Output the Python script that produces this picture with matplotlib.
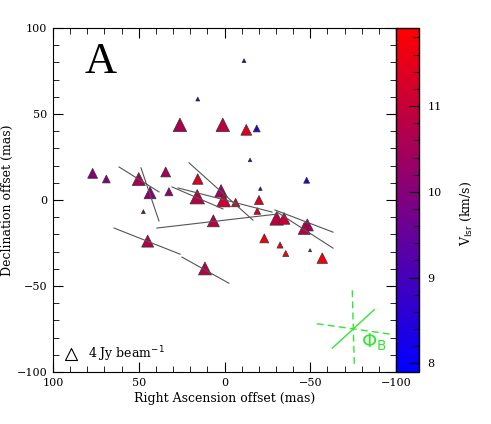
import matplotlib
matplotlib.use("Agg")
import matplotlib.pyplot as plt
from matplotlib.colors import LinearSegmentedColormap
from matplotlib.ticker import MultipleLocator
import numpy as np

# spot positions (mas), flux (Jy/beam) and velocity (km/s)
ra_off = [-11.4, 15.6, 26.0, 1.0, -12.7, -18.8, -14.9, -20.9, -47.9,
          76.9, 68.9, 50.0, 34.3, 15.6, 43.4, 32.4, 47.3, 15.9, 2.0,
          0.5, -6.5, -20.1, -19.1, -30.4, -34.7, -48.3, -46.5, 6.5,
          -23.2, -32.4, -35.7, -49.9, -57.0, 44.8, 11.4]
dec_off = [81.0, 58.7, 43.7, 43.7, 40.8, 41.6, 23.3, 6.6, 11.5,
           15.5, 12.2, 12.2, 16.3, 12.2, 4.2, 4.8, -6.8, 1.9, 5.3,
           0.0, -1.5, 0.0, -6.4, -10.7, -10.7, -14.5, -16.5, -12.1,
           -22.3, -26.2, -31.1, -29.2, -33.8, -23.9, -39.8]
flux = [1.3, 1.3, 4.5, 4.5, 3.6, 2.3, 1.2, 1.2, 2.0,
        3.3, 2.6, 4.3, 3.3, 3.5, 4.0, 2.7, 1.3, 4.8, 4.2,
        4.6, 2.8, 3.0, 2.2, 4.5, 3.9, 4.0, 4.0, 4.0,
        3.0, 2.0, 2.0, 1.0, 3.5, 4.0, 4.3]
vlsr = [8.2, 8.4, 10.6, 10.9, 11.4, 8.6, 8.5, 8.6, 8.5,
        10.0, 10.0, 10.6, 10.5, 11.3, 10.1, 10.2, 9.9, 10.8, 10.5,
        11.1, 11.3, 11.4, 11.4, 10.9, 11.1, 10.5, 10.8, 10.8,
        11.7, 11.7, 11.8, 8.6, 11.8, 10.8, 10.8]

# gradient segments: (ra1, dec1, ra2, dec2)
segments = [(61.5, 19.2, 38.2, 4.7),
            (48.7, 18.7, 38.2, -12.2),
            (20.7, 21.6, -16.6, -11.7),
            (30.6, 7.6, 0.9, -5.2),
            (27.1, 7.0, -27.7, -7.0),
            (39.4, -16.3, -30.6, -8.2),
            (-29.4, -5.8, -63.3, -18.7),
            (-30.6, -7.0, -63.3, -28.0),
            (64.4, -16.3, 25.9, -31.5),
            (24.8, -33.2, -2.6, -48.4)]

# beam / polarisation cross
beam_dash = [(-74.5, -52.5, -75.7, -96.2), (-53.8, -71.9, -97.5, -78.1)]
beam_solid = (-62.9, -86.1, -87.3, -63.8)

vmin, vmax = 7.9, 11.91
legend_flux = 4

px = 1 / 100.0
fig = plt.figure(figsize=(491 * px, 424 * px), dpi=100)
ax = fig.add_axes([53 / 491, 52 / 424, 343 / 491, 344 / 424])
cax = fig.add_axes([396 / 491, 52 / 424, 23 / 491, 344 / 424])

cmap = LinearSegmentedColormap.from_list("br", [(0, 0, 1), (1, 0, 0)])

def msize(f):
    # marker width in points grows with flux
    return (2.16 * np.asarray(f)) ** 2

for s in segments:
    ax.plot([s[0], s[2]], [s[1], s[3]], color="#555555", lw=0.8, zorder=4)

sc = ax.scatter(ra_off, dec_off, s=msize(flux), c=vlsr, cmap=cmap,
                vmin=vmin, vmax=vmax, marker="^", edgecolors="#333333",
                linewidths=0.5, zorder=3)

green = "#33e633"
for s in beam_dash:
    ax.plot([s[0], s[2]], [s[1], s[3]], color=green, lw=1.0, ls=(0, (5, 3)))
ax.plot([beam_solid[0], beam_solid[2]], [beam_solid[1], beam_solid[3]],
        color=green, lw=1.0)
ax.text(-87, -83, r"$\Phi_{\rm B}$", color=green, fontsize=14,
        ha="center", va="center", family="DejaVu Serif")

ax.text(72, 80, "A", fontsize=32, family="Liberation Serif",
        ha="center", va="center")

ax.scatter([0.0525], [0.052], s=msize([legend_flux]), marker="^",
           facecolors="white", edgecolors="black", linewidths=0.8,
           transform=ax.transAxes, clip_on=False)
ax.text(0.102, 0.052, "4 Jy beam$^{-1}$", transform=ax.transAxes,
        fontsize=9, va="center", ha="left", family="DejaVu Serif")

ax.set_xlim(100, -100)
ax.set_ylim(-100, 100)
ax.xaxis.set_major_locator(MultipleLocator(50))
ax.xaxis.set_minor_locator(MultipleLocator(10))
ax.yaxis.set_major_locator(MultipleLocator(50))
ax.yaxis.set_minor_locator(MultipleLocator(10))
ax.tick_params(which="both", direction="in", top=True, right=True,
               labelsize=8, pad=4)
ax.tick_params(which="major", length=7)
ax.tick_params(which="minor", length=4)
for lab in ax.get_xticklabels() + ax.get_yticklabels():
    lab.set_family("DejaVu Serif")
ax.set_xlabel("Right Ascension offset (mas)", fontsize=9,
              family="DejaVu Serif", labelpad=3)
ax.set_ylabel("Declination offset (mas)", fontsize=9,
              family="DejaVu Serif", labelpad=2)

cb = fig.colorbar(sc, cax=cax)
cb.outline.set_linewidth(1.0)
cax.yaxis.set_major_locator(MultipleLocator(1))
cax.yaxis.set_minor_locator(MultipleLocator(0.2))
cax.tick_params(which="both", direction="in", right=True, left=False,
                labelsize=8, pad=6)
cax.tick_params(which="major", length=7)
cax.tick_params(which="minor", length=4)
for lab in cax.get_yticklabels():
    lab.set_family("DejaVu Serif")
cb.set_label(r"V$_{\rm lsr}$ (km/s)", fontsize=9, family="DejaVu Serif")
cax.yaxis.set_label_coords(2.75, 0.46)

fig.savefig("out.png", dpi=100)
